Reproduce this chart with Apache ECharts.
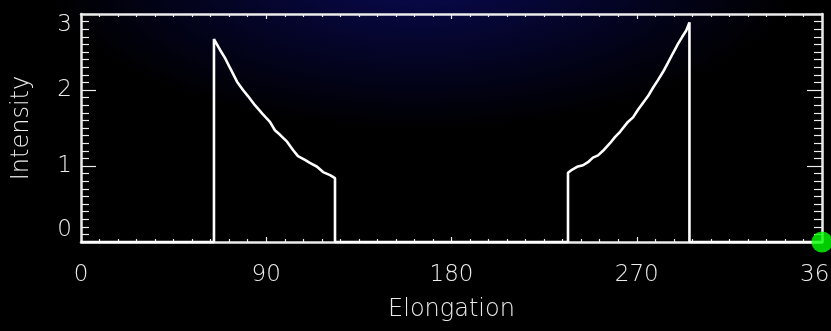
<!DOCTYPE html>
<html>
<head>
<meta charset="utf-8">
<script src="https://cdn.jsdelivr.net/npm/echarts@6/dist/echarts.min.js"></script>
<style>
  html, body { margin: 0; padding: 0; background: #000; }
  #chart {
    width: 831px; height: 331px;
    background: radial-gradient(ellipse 380px 160px at 420px -30px, #0a0a55 0%, #05052e 45%, #000 100%);
  }
</style>
</head>
<body>
<div id="chart"></div>
<script>
// Intensity profile along elongation (degrees)
const elongation = [
  0, 64.6, 64.6, 67.5, 70.0, 72.4, 75.8, 78.7, 81.1, 84.5, 88.4, 91.8, 94.2, 96.7,
  100.1, 103.0, 105.4, 108.8, 111.2, 114.7, 117.6, 121.0, 123.4, 123.4,
  236.6, 236.6, 238.5, 241.0, 243.9, 246.3, 248.7, 251.2, 253.6, 257.0, 259.4,
  261.9, 265.7, 268.2, 270.6, 273.0, 275.5, 277.9, 280.3, 282.8, 285.2, 287.7,
  290.1, 292.1, 294.0, 295.6, 295.6, 360
];
const intensity = [
  0, 0, 2.67, 2.53, 2.42, 2.29, 2.11, 2.00, 1.92, 1.80, 1.68, 1.58, 1.47, 1.41,
  1.32, 1.21, 1.13, 1.08, 1.04, 0.99, 0.92, 0.88, 0.84, 0,
  0, 0.91, 0.95, 0.99, 1.01, 1.05, 1.11, 1.14, 1.20, 1.30, 1.38,
  1.45, 1.58, 1.64, 1.74, 1.83, 1.92, 2.03, 2.13, 2.24, 2.36, 2.49,
  2.61, 2.70, 2.78, 2.89, 0, 0
];
// Current position marker
const marker = [[360, 0]];

const xTicks = [0, 90, 180, 270, 360];
const yTicks = [0, 1, 2, 3];

const fg = '#ececec';
const font = { fontFamily: 'DejaVu Sans', fontWeight: 200, color: fg };

const chart = echarts.init(document.getElementById('chart'), null, { renderer: 'canvas' });

const lineData = elongation.map((e, i) => [e, intensity[i]]);

function xAxisBase(pos, showLabels) {
  return {
    type: 'value', position: pos, min: xTicks[0], max: xTicks[xTicks.length - 1],
    interval: 90,
    axisLine: { show: true, onZero: false, lineStyle: { color: fg, width: 2.5 } },
    axisTick: { show: true, inside: true, length: 5, lineStyle: { color: fg, width: 1.2 } },
    minorTick: { show: true, splitNumber: 10, length: 3, lineStyle: { color: fg, width: 1.2 } },
    splitLine: { show: false },
    axisLabel: Object.assign({ show: showLabels, fontSize: 23, margin: 22 }, font),
    name: showLabels ? 'Elongation' : '',
    nameLocation: 'middle', nameGap: 56,
    nameTextStyle: Object.assign({ fontSize: 24 }, font)
  };
}
function yAxisBase(pos, showLabels) {
  return {
    type: 'value', position: pos, min: yTicks[0], max: yTicks[yTicks.length - 1],
    interval: 1,
    axisLine: { show: true, onZero: false, lineStyle: { color: fg, width: 2.5 } },
    axisTick: { show: true, inside: true, length: 15, lineStyle: { color: fg, width: 1.2 } },
    minorTick: { show: true, splitNumber: 10, length: 8, lineStyle: { color: fg, width: 1.2 } },
    splitLine: { show: false },
    axisLabel: Object.assign({
      show: showLabels, fontSize: 23, margin: 9,
      verticalAlignMinLabel: 'bottom', verticalAlignMaxLabel: 'top'
    }, font),
    name: showLabels ? 'Intensity' : '',
    nameLocation: 'middle', nameGap: 47,
    nameTextStyle: Object.assign({ fontSize: 24 }, font)
  };
}

chart.setOption({
  backgroundColor: 'transparent',
  animation: false,
  grid: { left: 81, right: 9, top: 14, bottom: 89, containLabel: false, outerBoundsMode: 'none' },
  xAxis: [xAxisBase('bottom', true), xAxisBase('top', false)],
  yAxis: [yAxisBase('left', true), yAxisBase('right', false)],
  series: [
    {
      type: 'line', data: lineData, showSymbol: false, symbol: 'none',
      lineStyle: { color: '#ffffff', width: 2.6 }, clip: false, z: 3
    },
    {
      type: 'scatter', data: marker, symbol: 'circle', symbolSize: 21,
      itemStyle: { color: '#00ff00' }, clip: false, z: 50
    }
  ]
});
</script>
</body>
</html>
